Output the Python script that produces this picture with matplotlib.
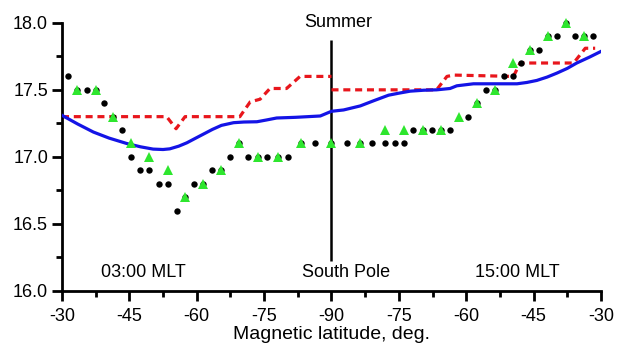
import matplotlib
matplotlib.use("Agg")
import matplotlib.pyplot as plt
from matplotlib.ticker import MultipleLocator

plt.rcParams['font.family'] = ['Liberation Sans', 'DejaVu Sans']

# x is distance along the path in degrees: 0 = -30 (03:00 MLT), 60 = pole, 120 = -30 (15:00 MLT)
tick_pos = [0, 15, 30, 45, 60, 75, 90, 105, 120]
tick_labels = ['-30', '-45', '-60', '-75', '-90', '-75', '-60', '-45', '-30']

black_x = [1.4, 3.4, 5.5, 7.5, 9.4, 11.4, 13.4, 15.4, 17.4, 19.4, 21.5, 23.5, 25.5,
           27.4, 29.4, 31.5, 33.4, 35.4, 37.4, 39.5, 41.5, 43.6, 45.6, 48.0, 50.4,
           53.2, 56.3, 59.9, 63.4, 66.3, 69.1, 71.9, 74.2, 76.2, 78.2, 80.3, 82.3,
           84.3, 86.3, 90.3, 92.3, 94.3, 96.3, 98.3, 100.3, 102.3, 104.2, 106.3,
           108.3, 110.3, 112.3, 114.3, 116.3, 118.3]
black_y = [17.6, 17.5, 17.5, 17.5, 17.4, 17.3, 17.2, 17.0, 16.9, 16.9, 16.8, 16.8, 16.6,
           16.7, 16.8, 16.8, 16.9, 16.9, 17.0, 17.1, 17.0, 17.0, 17.0, 17.0, 17.0,
           17.1, 17.1, 17.1, 17.1, 17.1, 17.1, 17.1, 17.1, 17.1, 17.2, 17.2, 17.2,
           17.2, 17.2, 17.3, 17.4, 17.5, 17.5, 17.6, 17.6, 17.7, 17.8, 17.8,
           17.9, 17.9, 18.0, 17.9, 17.9, 17.9]

green_x = [3.4, 7.5, 11.4, 15.4, 19.4, 23.5, 27.4, 31.5, 35.4, 39.5, 43.6, 48.0, 53.2,
           59.9, 66.3, 71.9, 76.2, 80.3, 84.3, 88.3, 92.3, 96.3, 100.3, 104.2, 108.3,
           112.3, 116.3]
green_y = [17.5, 17.5, 17.3, 17.1, 17.0, 16.9, 16.7, 16.8, 16.9, 17.1, 17.0, 17.0, 17.1,
           17.1, 17.1, 17.2, 17.2, 17.2, 17.2, 17.3, 17.4, 17.5, 17.7, 17.8, 17.9,
           18.0, 17.9]

blue_x = [0, 3.5, 7, 10.5, 14.4, 17.5, 20.3, 22.5, 24, 26, 27.8, 29.5, 31.5, 33.5, 35.5,
          38.2, 40.5, 43.4, 45.5, 47.8, 52, 57.5, 60, 62.7, 66.4, 69.5, 72.7, 75, 77.5,
          80.5, 83.4, 86.4, 87.9, 91.6, 96, 101.3, 103.5, 105.7, 108, 110.2, 112.5,
          114.6, 117.5, 120.2]
blue_y = [17.31, 17.245, 17.185, 17.14, 17.10, 17.075, 17.058, 17.055, 17.06, 17.08,
          17.105, 17.135, 17.17, 17.205, 17.235, 17.255, 17.26, 17.262, 17.275, 17.29,
          17.295, 17.305, 17.34, 17.35, 17.38, 17.42, 17.46, 17.475, 17.49, 17.497,
          17.50, 17.51, 17.53, 17.545, 17.545, 17.545, 17.555, 17.57, 17.595, 17.625,
          17.66, 17.70, 17.745, 17.79]

red1_x = [0, 23.3, 25.4, 27.4, 39.6, 41.9, 44.1, 46.3, 50.0, 53.0, 60.0]
red1_y = [17.3, 17.3, 17.21, 17.3, 17.3, 17.41, 17.43, 17.51, 17.51, 17.6, 17.6]
red2_x = [60.0, 83.4, 85.7, 87.2, 100.5, 102.0, 113.9, 116.5, 118.7]
red2_y = [17.5, 17.5, 17.6, 17.61, 17.6, 17.7, 17.7, 17.81, 17.81]

fig = plt.figure(figsize=(6.21, 3.52), dpi=100)
ax = fig.add_axes([0.0998, 0.1733, 0.868, 0.762])

red = '#e8161c'
ax.plot(red1_x, red1_y, color=red, lw=2.3, dashes=(2.2, 1.5), zorder=2)
ax.plot(red2_x, red2_y, color=red, lw=2.3, dashes=(2.2, 1.5), zorder=2)
ax.plot(blue_x, blue_y, color='#1414e6', lw=2.3, zorder=3)
ax.plot(black_x, black_y, 'o', color='black', ms=4.6, mew=0, zorder=4, clip_on=False)
ax.plot(green_x, green_y, '^', color='#2ee62e', ms=6.5, mew=0, zorder=5, clip_on=False)

ax.vlines(60, 16.22, 17.87, color='black', lw=1.8, zorder=1)

ax.set_xlim(0, 120)
ax.set_ylim(16.0, 18.0)
ax.set_xticks(tick_pos)
ax.set_xticklabels(tick_labels)
ax.xaxis.set_minor_locator(MultipleLocator(7.5))
ax.yaxis.set_major_locator(MultipleLocator(0.5))
ax.yaxis.set_minor_locator(MultipleLocator(0.25))
ax.yaxis.set_major_formatter(matplotlib.ticker.FormatStrFormatter('%.1f'))

for side in ['top', 'right']:
    ax.spines[side].set_visible(False)
for side in ['left', 'bottom']:
    ax.spines[side].set_linewidth(2)
ax.tick_params(which='major', direction='out', length=7, width=2, labelsize=13, pad=3)
ax.tick_params(axis='x', which='major', pad=5)
ax.tick_params(which='minor', direction='out', length=4, width=2)

ax.set_xlabel('Magnetic latitude, deg.', fontsize=14, labelpad=1)

ax.text(61.5, 18.0, 'Summer', ha='center', va='center', fontsize=13)
ax.text(18.1, 16.14, '03:00 MLT', ha='center', va='center', fontsize=13)
ax.text(63.3, 16.14, 'South Pole', ha='center', va='center', fontsize=13)
ax.text(101.3, 16.14, '15:00 MLT', ha='center', va='center', fontsize=13)

fig.savefig('out.png', dpi=100)
